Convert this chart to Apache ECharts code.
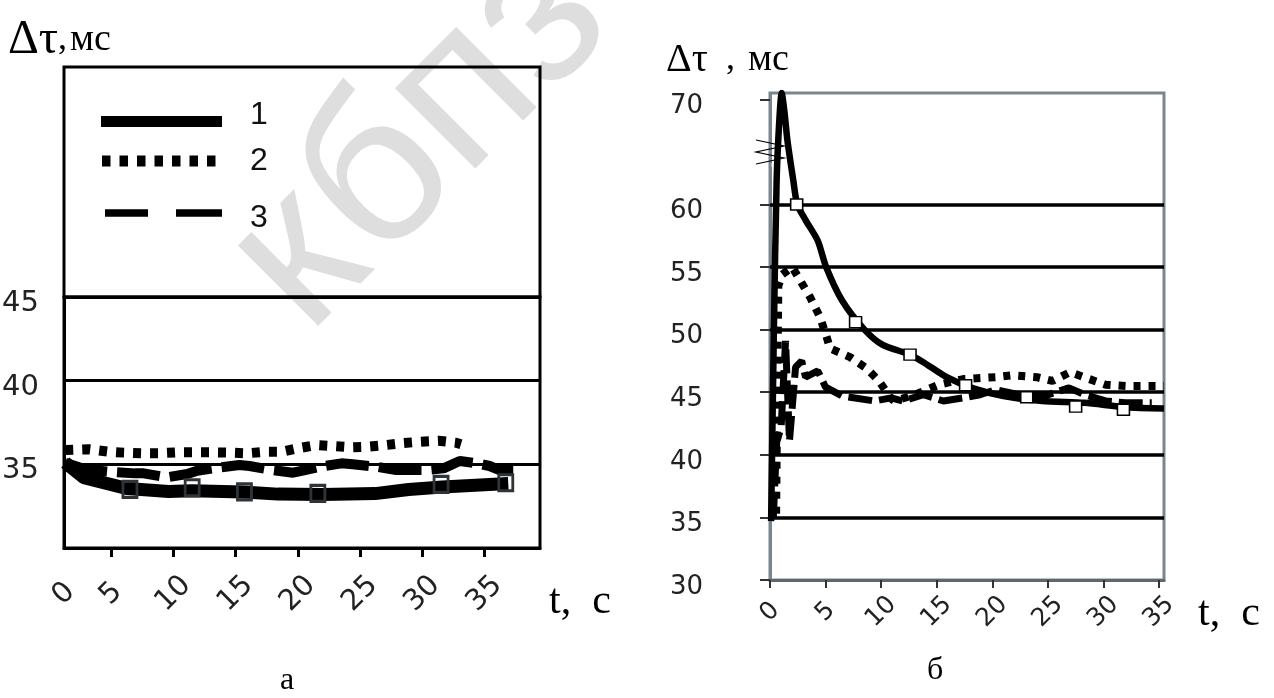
<!DOCTYPE html>
<html>
<head>
<meta charset="utf-8">
<script src="https://cdn.jsdelivr.net/npm/echarts@6/dist/echarts.min.js"></script>
<style>
  html, body { margin: 0; padding: 0; background: #fff; }
  #c { width: 1274px; height: 698px; }
</style>
</head>
<body>
<div id="c"></div>
<script>
// ---------- Panel «а»: Δτ (ms) versus t (s) ----------
const aT1 = [1.3, 2.8, 6.3, 9.6, 11.5, 15.6, 18.4, 22.0, 26.2, 28.9, 31.6, 36.9];
const aV1 = [35.1, 34.2, 33.55, 33.38, 33.42, 33.35, 33.22, 33.2, 33.25, 33.5, 33.65, 33.85];
const aT2 = [1.3, 3.2, 4.8, 6.0, 7.4, 8.8, 10.3, 11.6, 13.1, 14.5, 15.9, 17.4, 18.7, 20.0, 21.5, 22.8, 24.2, 25.5, 27.0, 28.3, 29.8, 31.3, 32.7, 33.1];
const aV2 = [35.85, 35.9, 35.75, 35.7, 35.66, 35.66, 35.72, 35.72, 35.72, 35.7, 35.66, 35.75, 35.75, 35.96, 36.15, 36.09, 36.02, 36.05, 36.15, 36.26, 36.35, 36.41, 36.29, 36.2];
const aT3 = [1.3, 2.9, 4.9, 6.9, 7.6, 9.45, 11.1, 11.9, 13.6, 15.3, 16.1, 17.9, 19.6, 20.2, 21.8, 23.5, 24.4, 26.3, 27.9, 28.6, 30.3, 31.7, 33.0, 34.4, 35.4, 36.2, 37.3];
const aV3 = [35.1, 34.7, 34.56, 34.46, 34.46, 34.22, 34.42, 34.62, 34.8, 34.96, 34.9, 34.66, 34.5, 34.6, 34.86, 35.06, 35.0, 34.86, 34.66, 34.66, 34.66, 34.76, 35.2, 35.06, 34.9, 34.66, 34.66];
const aMarkT = [6.5, 11.5, 15.7, 21.6, 31.5, 36.7];
const aMarkV = [33.5, 33.6, 33.35, 33.27, 33.8, 33.9];
const aXMin = 1.2, aXMax = 39.45;
const aTickT = [5, 10, 15, 20, 25, 30, 35];
const aLabelT = [1.2, 5, 10, 15, 20, 25, 30, 35];
const aLabelText = ['0', '5', '10', '15', '20', '25', '30', '35'];
const aYLabels = [35, 40, 45];

// ---------- Panel «б»: Δτ (ms) versus t (s) ----------
const bT1 = [0.1, 0.35, 0.6, 0.85, 1.05, 1.3, 1.57, 2.1, 2.45, 3.2, 4.3, 5.05, 6.5, 8.5, 10.1, 12.6, 13.8, 15.9, 18.3, 21.0, 24.5, 28.3, 32.0, 35.45];
const bV1 = [34.7, 50, 62, 68.5, 70.5, 69, 66.7, 61.9, 60.0, 58.75, 57.1, 55.0, 52.3, 50.0, 48.8, 48.0, 47.4, 46.2, 45.3, 44.7, 44.3, 44.15, 43.8, 43.7];
const bT2 = [0.55, 0.65, 0.75, 1.1, 2.0, 3.6, 4.5, 5.1, 5.4, 7.2, 8.7, 9.8, 10.9, 11.2, 13.05, 15.2, 17.4, 20.3, 21.8, 24.0, 25.4, 27.0, 28.4, 30.2, 32.0, 35.45];
const bV2 = [35.3, 45, 53.5, 54.4, 55.0, 52.6, 51.0, 49.4, 48.5, 47.8, 46.9, 45.9, 44.5, 44.3, 44.8, 45.6, 46.05, 46.2, 46.35, 46.2, 45.9, 46.6, 46.15, 45.6, 45.5, 45.5];
const bT3 = [0.3, 0.6, 1.0, 1.4, 1.75, 2.3, 2.85, 3.2, 4.3, 5.0, 6.5, 9.4, 10.9, 11.95, 13.8, 15.6, 17.4, 18.9, 20.3, 22.9, 24.7, 26.9, 28.3, 30.2, 32.0, 34.35];
const bV3 = [35.0, 41.0, 42.2, 49.1, 41.1, 47.0, 47.5, 46.2, 46.7, 45.4, 44.7, 44.3, 44.55, 44.3, 44.8, 44.3, 44.55, 44.8, 45.2, 44.7, 44.7, 45.35, 44.8, 44.3, 44.15, 44.15];
const bMarkT = [2.4, 7.7, 12.6, 17.6, 23.1, 27.5, 31.8];
const bMarkV = [60.0, 50.6, 48.0, 45.55, 44.6, 43.85, 43.6];
const bXTicks = [0, 5, 10, 15, 20, 25, 30, 35];
const bYTicks = [30, 35, 40, 45, 50, 55, 60, 70];
const bGridLines = [35, 40, 45, 50, 55, 60];

const pairs = (ts, vs) => ts.map((t, i) => [t, vs[i]]);

const serif = 'Liberation Serif';
const sans = 'DejaVu Sans';
const legendFont = 'Liberation Sans';
const frameGray = '#7b858d';
const tok = (size, extra) => Object.assign(
  { fontFamily: serif, fontSize: size, fontWeight: 'normal', color: '#000' }, extra || {});

// legend label raised or lowered inside a taller line box
const legendText = (valign, boxH, padLeft) => ({
  fontFamily: legendFont, fontSize: 32, color: '#111', padding: [0, 0, 0, padLeft],
  rich: {
    u: { fontFamily: legendFont, fontSize: 32, color: '#111', lineHeight: 32, verticalAlign: valign },
    g: { fontSize: 2, lineHeight: boxH }
  }
});

const chart = echarts.init(document.getElementById('c'));

const option = {
  animation: false,
  backgroundColor: '#fff',
  title: [
    {
      left: 8, top: 12, padding: 0,
      text: '{a|Δτ}{b|,}{c|мс}',
      textStyle: { fontWeight: 'normal', rich: {
        a: tok(48, { width: 50, lineHeight: 56 }),
        b: tok(36, { width: 12, lineHeight: 56 }),
        c: tok(38, { lineHeight: 56 })
      } }
    },
    {
      left: 666, top: 38, padding: 0,
      text: '{a|Δτ}{b|,}{c|мс}',
      textStyle: { fontWeight: 'normal', rich: {
        a: tok(40, { width: 60, lineHeight: 44 }),
        b: tok(36, { width: 22, lineHeight: 44 }),
        c: tok(38, { lineHeight: 44 })
      } }
    },
    { left: 280, top: 665, padding: 0, text: 'а', textStyle: tok(32) },
    { left: 927, top: 655, padding: 0, text: 'б', textStyle: tok(32) }
  ],
  legend: [
    {
      data: [{ name: '1', icon: 'rect' }],
      formatter: n => '{u|' + n + '}{g| }',
      left: 101, top: 99, padding: 0, selectedMode: false,
      itemWidth: 121, itemHeight: 11,
      textStyle: legendText('top', 45, 23)
    },
    {
      data: [{ name: '2', icon: 'path://M0,0H8.5V11H0Z M17.5,0H26V11H17.5Z M35,0H43.5V11H35Z M52.5,0H61V11H52.5Z M70,0H78.5V11H70Z M87.5,0H96V11H87.5Z M105,0H113.5V11H105Z' }],
      left: 102, top: 145, padding: 0, selectedMode: false,
      itemWidth: 113.5, itemHeight: 11,
      textStyle: { fontFamily: legendFont, fontSize: 32, color: '#111', lineHeight: 32, padding: [0, 0, 0, 29.5] }
    },
    {
      data: [{ name: '3', icon: 'path://M0,0H43V7.5H0Z M71,0H117V7.5H71Z' }],
      formatter: n => '{u|' + n + '}{g| }',
      left: 105, top: 202, padding: 0, selectedMode: false,
      itemWidth: 117, itemHeight: 7.5,
      textStyle: legendText('bottom', 42, 23)
    }
  ],
  grid: [
    { left: 64, top: 297, width: 476, height: 251, show: true, borderColor: '#000', borderWidth: 3,
      backgroundColor: 'transparent', outerBoundsMode: 'none' },
    { left: 770, top: 93, width: 394, height: 487, show: true, borderColor: frameGray, borderWidth: 3,
      backgroundColor: 'transparent', outerBoundsMode: 'none' }
  ],
  xAxis: [
    {
      gridIndex: 0, type: 'value', min: aXMin, max: aXMax,
      axisLine: { show: true, onZero: false, lineStyle: { color: '#000', width: 3 } },
      axisTick: { show: true, length: 9, customValues: aTickT, lineStyle: { color: '#000', width: 3 } },
      axisLabel: {
        customValues: aLabelT,
        formatter: v => aLabelText[aLabelT.indexOf(v)],
        rotate: 45, align: 'center', verticalAlign: 'middle', margin: 46,
        fontFamily: sans, fontSize: 29, color: '#222'
      },
      splitLine: { show: false },
      name: 't,  с', nameLocation: 'end', nameGap: 9, nameMoveOverlap: false,
      nameTextStyle: { fontFamily: serif, fontSize: 42, color: '#000', verticalAlign: 'top', lineHeight: 42, padding: [33, 0, 0, 0] }
    },
    {
      gridIndex: 1, type: 'value', min: 0, max: 35.45,
      axisLine: { show: true, onZero: false, lineStyle: { color: '#5f686f', width: 3 } },
      axisTick: { show: true, length: 8, customValues: bXTicks, lineStyle: { color: '#333', width: 2 } },
      axisLabel: {
        customValues: bXTicks,
        rotate: 45, align: 'center', verticalAlign: 'middle', margin: 32,
        fontFamily: sans, fontSize: 25, color: '#222'
      },
      splitLine: { show: false },
      name: 't,  с', nameLocation: 'end', nameGap: 34, nameMoveOverlap: false,
      nameTextStyle: { fontFamily: serif, fontSize: 42, color: '#000', verticalAlign: 'top', lineHeight: 42, padding: [13, 0, 0, 0] }
    }
  ],
  yAxis: [
    {
      gridIndex: 0, type: 'value', min: 30, max: 45, interval: 5,
      axisLine: { show: true, lineStyle: { color: '#000', width: 3 } },
      axisTick: { show: false },
      axisLabel: { customValues: aYLabels, margin: 25, fontFamily: sans, fontSize: 29, color: '#222',
                   verticalAlign: 'top', lineHeight: 13 },
      splitLine: { show: true, lineStyle: { color: '#000', width: 3 } }
    },
    {
      gridIndex: 1, type: 'value', min: 30, max: 70.5,
      breaks: [{ start: 63, end: 65, gap: 0.4 }],
      breakArea: { show: false },
      axisLine: { show: true, lineStyle: { color: frameGray, width: 3 } },
      axisTick: { show: true, length: 10, customValues: bYTicks, lineStyle: { color: '#333', width: 2 } },
      axisLabel: { customValues: bYTicks, margin: 67, fontFamily: sans, fontSize: 26, color: '#222',
                   verticalAlign: 'top', lineHeight: 14 },
      splitLine: { show: false }
    }
  ],
  series: [
    // panel а
    { name: '1', type: 'line', xAxisIndex: 0, yAxisIndex: 0, data: pairs(aT1, aV1),
      symbol: 'none', itemStyle: { color: '#000' }, lineStyle: { color: '#000', width: 13 }, z: 3 },
    { name: '2', type: 'line', xAxisIndex: 0, yAxisIndex: 0, data: pairs(aT2, aV2),
      symbol: 'none', itemStyle: { color: '#000' }, lineStyle: { color: '#000', width: 10, type: [8, 9] }, z: 3 },
    { name: '3', type: 'line', xAxisIndex: 0, yAxisIndex: 0, data: pairs(aT3, aV3),
      symbol: 'none', itemStyle: { color: '#000' }, lineStyle: { color: '#000', width: 10, type: [43, 10] }, z: 3 },
    { name: 'а-точки', type: 'scatter', xAxisIndex: 0, yAxisIndex: 0, data: pairs(aMarkT, aMarkV),
      symbol: 'rect', symbolSize: [14, 16],
      itemStyle: { color: 'rgba(0,0,0,0)', borderColor: '#2e3438', borderWidth: 3, opacity: 1 }, z: 4 },
    // panel б
    { name: 'б1', type: 'line', xAxisIndex: 1, yAxisIndex: 1, data: pairs(bT1, bV1), smooth: 0.25,
      symbol: 'none', itemStyle: { color: '#000' }, lineStyle: { color: '#000', width: 6.5 }, z: 3,
      markLine: {
        silent: true, symbol: 'none', z: 1, animation: false,
        label: { show: false },
        lineStyle: { color: '#000', width: 3.5, type: 'solid' },
        data: bGridLines.map(v => ({ yAxis: v }))
      } },
    { name: 'б2', type: 'line', xAxisIndex: 1, yAxisIndex: 1, data: pairs(bT2, bV2),
      symbol: 'none', itemStyle: { color: '#000' }, lineStyle: { color: '#000', width: 8, type: [7, 8] }, z: 3 },
    { name: 'б3', type: 'line', xAxisIndex: 1, yAxisIndex: 1, data: pairs(bT3, bV3),
      symbol: 'none', itemStyle: { color: '#000' }, lineStyle: { color: '#000', width: 7, type: [24, 7] }, z: 3 },
    { name: 'б-точки', type: 'scatter', xAxisIndex: 1, yAxisIndex: 1, data: pairs(bMarkT, bMarkV),
      symbol: 'rect', symbolSize: [12, 11],
      itemStyle: { color: '#fff', borderColor: '#000', borderWidth: 1.5, opacity: 1 }, z: 4 }
  ],
  graphic: [
    // faint diagonal lettering behind the panels
    { type: 'text', x: 266, y: 294, rotation: Math.PI / 4, z: -1, silent: true,
      style: { text: 'кбпз -', fontFamily: 'Liberation Sans', fontSize: 215, fill: '#dedede',
               textAlign: 'left', textVerticalAlign: 'middle' } },
    // box that holds the legend of panel а
    { type: 'rect', z: 10, silent: true,
      shape: { x: 64, y: 67, width: 476, height: 230 },
      style: { fill: 'none', stroke: '#000', lineWidth: 3 } },
    // axis break mark on the Δτ axis of panel б
    { type: 'polyline', z: 10, silent: true,
      shape: { points: [[756, 140], [784, 146], [756, 152], [784, 158], [756, 164]] },
      style: { fill: 'none', stroke: '#000', lineWidth: 1.2 } }
  ]
};

chart.setOption(option);
</script>
</body>
</html>
